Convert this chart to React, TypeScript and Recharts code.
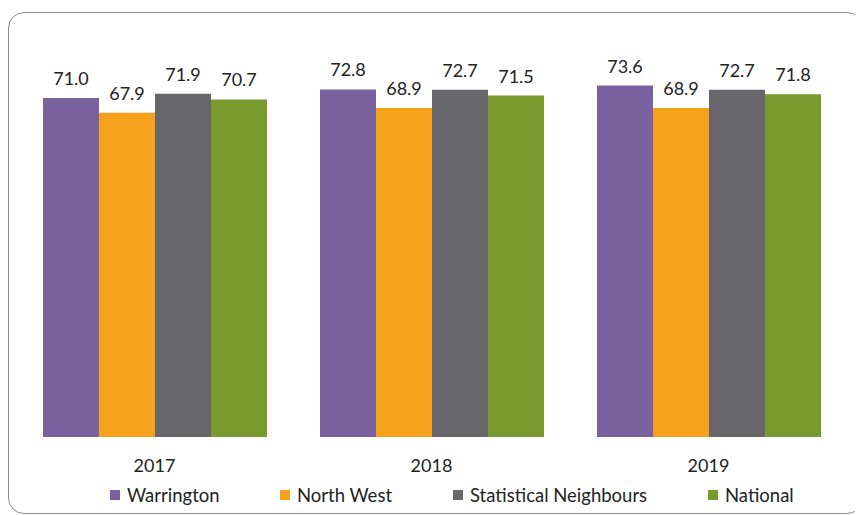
import React from "react";
import { BarChart, Bar, XAxis, YAxis, LabelList } from "recharts";

const years = ["2017", "2018", "2019"];
const warrington = [71.0, 72.8, 73.6];
const northWest = [67.9, 68.9, 68.9];
const statNeighbours = [71.9, 72.7, 72.7];
const national = [70.7, 71.5, 71.8];

const seriesNames = ["Warrington", "North West", "Statistical Neighbours", "National"];
const seriesKeys = ["warrington", "northWest", "statNeighbours", "national"];
const colors = ["#7A62A1", "#F5A11A", "#67666B", "#799A2F"];

const data = years.map((y, i) => ({
  year: y,
  warrington: warrington[i],
  northWest: northWest[i],
  statNeighbours: statNeighbours[i],
  national: national[i],
}));

const FONT = "Lato, 'Open Sans', sans-serif";
const legendX = [110, 280, 453, 708];

export default function App() {
  return (
    <div style={{ position: "relative", left: -8, top: -8, width: 863, height: 515 }}>
      <div
        style={{
          position: "absolute",
          left: 8,
          top: 12,
          width: 853,
          height: 500,
          border: "1px solid #8c8c8c",
          borderRadius: 16,
        }}
      />
      <div style={{ position: "absolute", left: 0, top: 0 }}>
        <BarChart
          width={863}
          height={515}
          data={data}
          margin={{ top: 55, right: 16, left: 16, bottom: 48 }}
          barCategoryGap={27}
          barGap={0}
        >
          <XAxis
            dataKey="year"
            axisLine={false}
            tickLine={false}
            tick={{ fontFamily: FONT, fontSize: 18, fill: "#222" }}
            tickMargin={16}
          />
          <YAxis hide domain={[0, 80]} />
          {seriesKeys.map((k, i) => (
            <Bar key={k} dataKey={k} fill={colors[i]} isAnimationActive={false}>
              <LabelList
                dataKey={k}
                position="top"
                offset={13}
                formatter={(v: any) => Number(v).toFixed(1)}
                style={{ fontFamily: FONT, fontSize: 18, fill: "#222" }}
              />
            </Bar>
          ))}
        </BarChart>
      </div>
      {seriesNames.map((n, i) => (
        <div
          key={n}
          style={{
            position: "absolute",
            left: legendX[i],
            top: 484,
            height: 22,
            display: "flex",
            alignItems: "center",
            fontFamily: FONT,
            fontSize: 18.5,
            color: "#222",
            whiteSpace: "nowrap",
          }}
        >
          <span
            style={{
              display: "inline-block",
              width: 10,
              height: 10,
              background: colors[i],
              marginRight: 7,
            }}
          />
          <span>{n}</span>
        </div>
      ))}
    </div>
  );
}
